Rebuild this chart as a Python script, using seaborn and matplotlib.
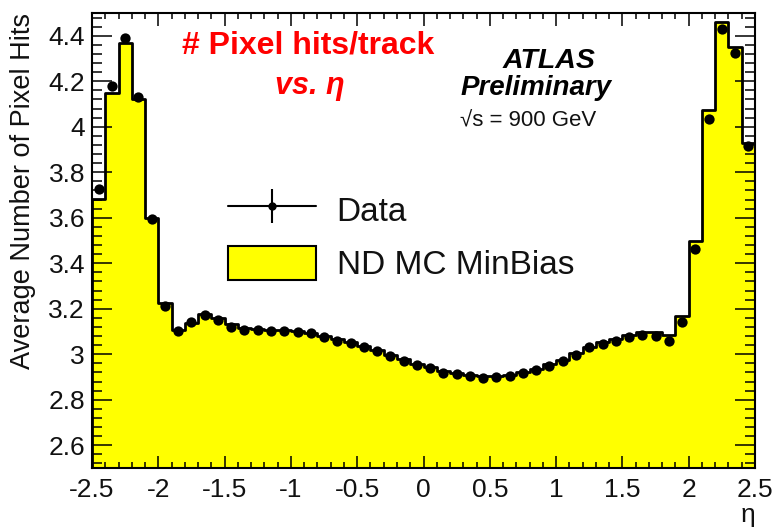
import numpy as np
import pandas as pd
import matplotlib
matplotlib.use("Agg")
import matplotlib.pyplot as plt
from matplotlib.lines import Line2D
from matplotlib.patches import Patch
from matplotlib.ticker import MultipleLocator
import seaborn as sns

# eta binning: 50 bins of width 0.1 over |eta| < 2.5
n_bins = 50
eta_range = (-2.5, 2.5)
bin_edges = np.linspace(eta_range[0], eta_range[1], n_bins + 1)
bin_centers = np.round((bin_edges[:-1] + bin_edges[1:]) / 2, 3)

# average number of pixel hits per track, data
data_hits = [3.725, 4.179, 4.389, 4.132, 3.595, 3.212, 3.104, 3.143, 3.172, 3.150,
             3.118, 3.107, 3.107, 3.102, 3.102, 3.099, 3.092, 3.077, 3.060, 3.048,
             3.033, 3.014, 2.992, 2.972, 2.953, 2.938, 2.919, 2.912, 2.904, 2.894,
             2.901, 2.904, 2.916, 2.931, 2.950, 2.970, 2.997, 3.030, 3.045, 3.058,
             3.077, 3.085, 3.082, 3.060, 3.142, 3.463, 4.034, 4.430, 4.323, 3.917]

# non-diffractive minimum-bias Monte Carlo
mc_hits = [3.681, 4.147, 4.370, 4.122, 3.598, 3.227, 3.107, 3.136, 3.178, 3.158,
           3.133, 3.115, 3.112, 3.108, 3.106, 3.102, 3.095, 3.082, 3.066, 3.052,
           3.037, 3.018, 2.997, 2.977, 2.958, 2.942, 2.925, 2.916, 2.910, 2.903,
           2.905, 2.910, 2.921, 2.936, 2.955, 2.976, 3.004, 3.034, 3.052, 3.068,
           3.086, 3.098, 3.100, 3.085, 3.166, 3.496, 4.074, 4.460, 4.352, 3.927]

x_ticks = [-2.5, -2, -1.5, -1, -0.5, 0, 0.5, 1, 1.5, 2, 2.5]
x_ticklabels = ["-2.5", "-2", "-1.5", "-1", "-0.5", "0", "0.5", "1", "1.5", "2", "2.5"]
y_ticks = [2.6, 2.8, 3.0, 3.2, 3.4, 3.6, 3.8, 4.0, 4.2, 4.4]
y_ticklabels = ["2.6", "2.8", "3", "3.2", "3.4", "3.6", "3.8", "4", "4.2", "4.4"]

df = pd.DataFrame({"eta": bin_centers, "data": data_hits, "mc": mc_hits})

sns.set_style("white")
plt.rcParams["font.family"] = ["Liberation Sans", "DejaVu Sans"]

fig = plt.figure(figsize=(7.76, 5.27), dpi=100)
ax = fig.add_axes([92 / 776, 1 - 468 / 527, (755 - 92) / 776, (468 - 13) / 527])

# MC histogram: yellow filled step outline
sns.histplot(data=df, x="eta", weights="mc", bins=n_bins, binrange=eta_range,
             element="step", fill=True, color="#ffff00", edgecolor="black",
             linewidth=2.0, alpha=1.0, ax=ax, zorder=2)

# data points
sns.scatterplot(data=df, x="eta", y="data", color="black", s=55, marker="o",
                edgecolor="black", linewidth=0, ax=ax, zorder=4)

ax.set_xlim(-2.5, 2.5)
ax.set_ylim(2.5, 4.5)
ax.set_xticks(x_ticks)
ax.set_xticklabels(x_ticklabels)
ax.set_yticks(y_ticks)
ax.set_yticklabels(y_ticklabels)
ax.xaxis.set_minor_locator(MultipleLocator(0.1))
ax.yaxis.set_minor_locator(MultipleLocator(0.04))

ax.tick_params(axis="both", which="both", direction="in", top=True, right=True,
               bottom=True, left=True, width=1.1, color="black", labelsize=19,
               labelcolor="#111111")
ax.tick_params(axis="y", which="major", length=14.5, pad=5)
ax.tick_params(axis="y", which="minor", length=7)
ax.tick_params(axis="x", which="major", length=9, pad=7)
ax.tick_params(axis="x", which="minor", length=4.5)
ax.set_axisbelow(False)

for spine in ax.spines.values():
    spine.set_visible(True)
    spine.set_linewidth(1.5)
    spine.set_color("black")
    spine.set_zorder(5)

ax.set_ylabel("Average Number of Pixel Hits", fontsize=19.5, color="#111111", loc="top")
ax.yaxis.set_label_coords(-0.085, 1.0)
ax.set_xlabel("η", fontsize=19, color="#111111", loc="right")
ax.xaxis.set_label_coords(1.0, -0.078)

# annotations
fig.text(308 / 776, 1 - 46 / 527, "# Pixel hits/track", color="#ff0000",
         fontsize=23, fontweight="bold", ha="center", va="center")
fig.text(310 / 776, 1 - 86 / 527, "vs. η", color="#ff0000", fontsize=22,
         fontweight="bold", fontstyle="italic", ha="center", va="center")
fig.text(549 / 776, 1 - 61 / 527, "ATLAS", color="black", fontsize=20.5,
         fontweight="bold", fontstyle="italic", ha="center", va="center")
fig.text(536 / 776, 1 - 88 / 527, "Preliminary", color="black", fontsize=20,
         fontweight="bold", fontstyle="italic", ha="center", va="center")
fig.text(528 / 776, 1 - 121 / 527, "√s = 900 GeV", color="#111111",
         fontsize=16, ha="center", va="center")

# legend
data_handle = (Line2D([], [], color="black", linewidth=1.5, marker="o",
                      markersize=5, markerfacecolor="black"),
               Line2D([], [], color="black", linestyle="none", marker="|",
                      markersize=24, markeredgewidth=1.5))
mc_handle = Patch(facecolor="#ffff00", edgecolor="black", linewidth=1.5)
leg = ax.legend([data_handle, mc_handle], ["Data", "ND MC MinBias"],
                loc="upper left", bbox_to_anchor=(228 / 776, 1 - 192 / 527),
                bbox_transform=fig.transFigure, frameon=False, fontsize=24,
                handlelength=2.64, handleheight=1.23, handletextpad=0.62,
                labelspacing=0.54, borderpad=0, borderaxespad=0)
for t in leg.get_texts():
    t.set_color("#111111")

fig.savefig("out.png", dpi=100)
